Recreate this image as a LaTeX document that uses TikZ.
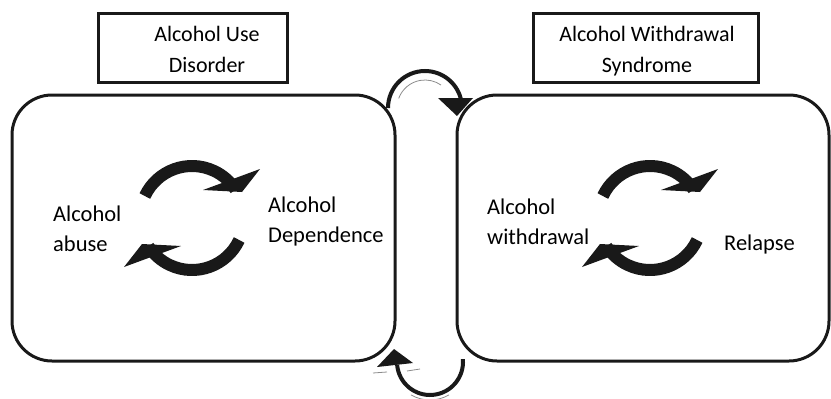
\documentclass[tikz,border=0pt]{standalone}
\usepackage{fontspec}
\setmainfont{Carlito}
\begin{document}
\begin{tikzpicture}[x=1pt,y=-1pt,
  bigbox/.style={draw=black!90,line width=3pt,rounded corners=40pt,inner sep=0pt},
  lblbox/.style={draw=black!90,line width=3pt,inner sep=0pt},
  lbltext/.style={font=\fontsize{22}{31}\selectfont,align=center,inner sep=0pt,anchor=base},
  intext/.style={font=\fontsize{22.5}{30}\selectfont,align=left,inner sep=0pt,anchor=base west},
  cycarc/.style={line width=12pt,black!90},
  conn/.style={line width=4pt,black!90},
  faint/.style={line width=0.8pt,black!45}]
\useasboundingbox (0,0) rectangle (831,399);
% main boxes
\node[bigbox,minimum width=383pt,minimum height=266pt] (L) at (203.5,228) {};
\node[bigbox,minimum width=372pt,minimum height=266pt] (R) at (643,228) {};
% label boxes
\node[lblbox,minimum width=189pt,minimum height=69pt] (lb1) at (192.5,47.5) {};
\node[lblbox,minimum width=225pt,minimum height=69pt] (lb2) at (645.5,47.5) {};
\node[lbltext] (t1) at (207,72) {Alcohol Use\\Disorder};
\node[lbltext] (t2) at (647,72) {Alcohol Withdrawal\\Syndrome};
% inner texts
\node[intext] (a1) at (53,251) {Alcohol\\abuse};
\node[intext] (a2) at (268,242) {Alcohol\\Dependence};
\node[intext] (a3) at (487,244) {Alcohol\\withdrawal};
\node[intext] (a4) at (724,250) {Relapse};
% cycle arrows
\foreach \cx/\cy/\nm in {192/218/cl, 650/218/cr}{
  \coordinate (\nm) at (\cx,\cy);
  \foreach \rot in {0,180}{
    \begin{scope}[shift={(\nm)},rotate=\rot]
      \draw[cycarc] (0,0) ++(-155:52) arc[start angle=-155,end angle=-33,radius=52];
      \fill[black!90] (11,-28) -- (68,-49) -- (50,-26) -- cycle;
    \end{scope}
  }
}
% top connector
\coordinate (tc) at (425,108);
\draw[conn] (tc) ++(180:37) arc[start angle=180,end angle=350,radius=37];
\draw[faint] (tc) ++(-160:28) arc[start angle=-160,end angle=-55,radius=28];
\fill[black!90] (438,98) -- (473,98) -- (457,116) -- cycle;
% bottom connector
\coordinate (bc) at (430,362);
\draw[conn] (bc) ++(-5:33) arc[start angle=-5,end angle=175,radius=33];
\draw[faint] (bc) ++(60:38) arc[start angle=60,end angle=120,radius=38];
\draw[faint] (373,373) -- (387,372) (407,371) -- (420,369);
\fill[black!90] (377,367) -- (413,363) -- (394,349) -- cycle;
\end{tikzpicture}
\end{document}
